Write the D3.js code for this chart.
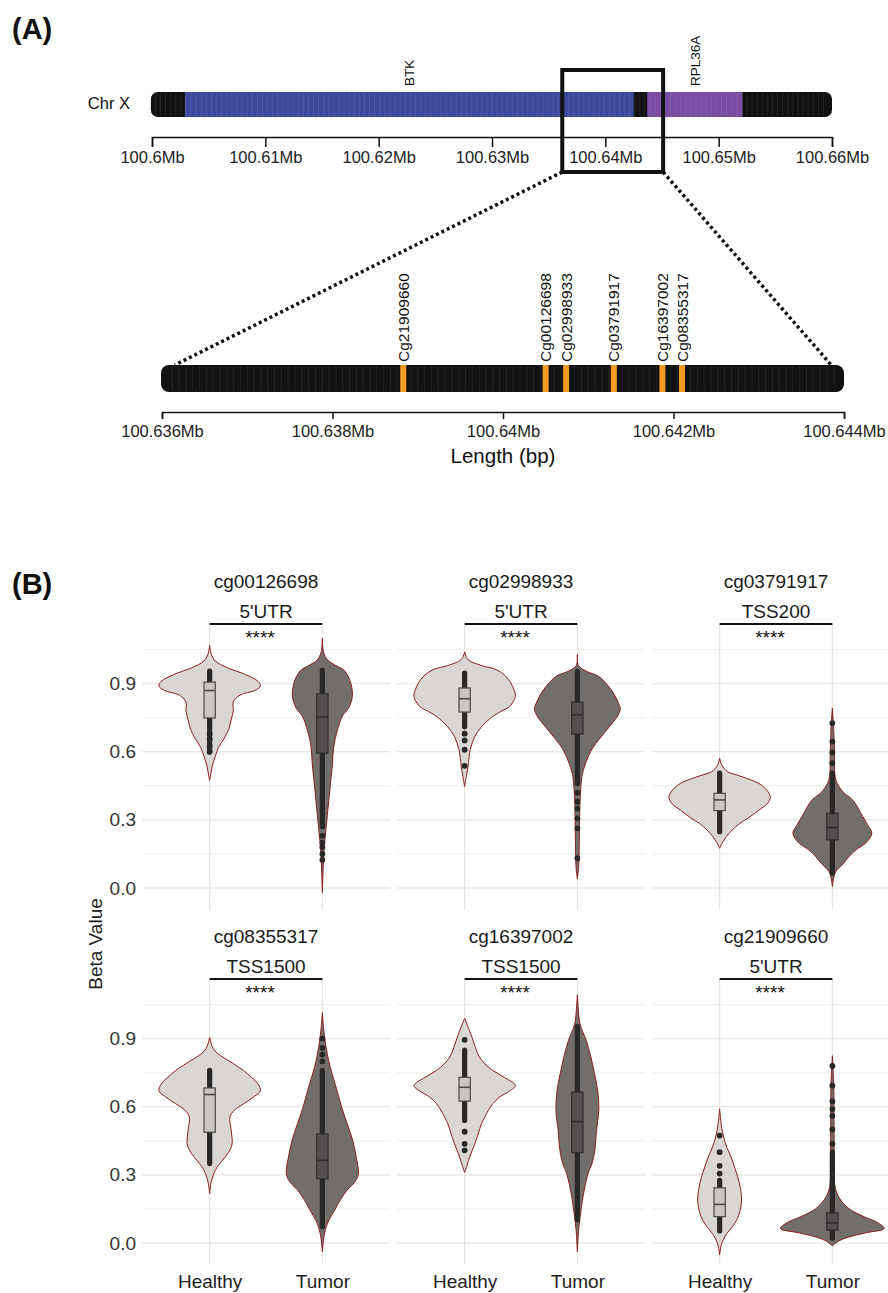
<!DOCTYPE html>
<html>
<head>
<meta charset="utf-8">
<script src="https://cdn.jsdelivr.net/npm/d3@7"></script>
<style>
  body { margin: 0; background: #fff; }
  svg { display: block; font-family: "Liberation Sans", Arial, sans-serif; }
</style>
</head>
<body>
<svg id="chart" width="888" height="1293"></svg>
<script>
// ---------- panel A : chromosome view (positions in Mb) ----------
const chrTicks = [100.6, 100.61, 100.62, 100.63, 100.64, 100.65, 100.66];
const chrExtent = [100.5999, 100.66];
const geneNames = ['BTK', 'RPL36A'];
const geneStarts = [100.6029, 100.6437];
const geneEnds = [100.6425, 100.6521];
const geneColors = ['#3c4a9e', '#7a4ca4'];
const zoomWindow = [100.6362, 100.6451];

const zoomTicks = [100.636, 100.638, 100.64, 100.642, 100.644];
const zoomExtent = [100.636, 100.644];
const linkEnds = [100.63615, 100.64385];
const cpgNames = ['Cg21909660', 'Cg00126698', 'Cg02998933', 'Cg03791917', 'Cg16397002', 'Cg08355317'];
const cpgPos = [100.63883, 100.6405, 100.64074, 100.6413, 100.64187, 100.6421];

// ---------- panel B : beta values per probe ----------
const probes = ['cg00126698', 'cg02998933', 'cg03791917', 'cg08355317', 'cg16397002', 'cg21909660'];
const regions = ["5'UTR", "5'UTR", 'TSS200', 'TSS1500', 'TSS1500', "5'UTR"];
const groups = ['Healthy', 'Tumor'];
const yMajor = [0, 0.3, 0.6, 0.9];
const yMinor = [0.15, 0.45, 0.75, 1.05];
const signif = '****';

// violin outline: [beta, half width as share of the category step]
const healthyViolin = [
  [[1.07,0],[1.03,0.015],[1.0,0.05],[0.97,0.16],[0.94,0.32],[0.91,0.43],[0.89,0.45],[0.87,0.4],[0.85,0.27],[0.82,0.21],[0.78,0.21],[0.74,0.19],[0.70,0.17],[0.66,0.13],[0.62,0.08],[0.58,0.05],[0.54,0.025],[0.5,0.01],[0.475,0]],
  [[1.04,0],[1.006,0.03],[0.98,0.15],[0.962,0.28],[0.93,0.37],[0.903,0.41],[0.87,0.44],[0.844,0.45],[0.8,0.40],[0.78,0.33],[0.756,0.25],[0.71,0.15],[0.667,0.09],[0.609,0.05],[0.535,0.03],[0.49,0.015],[0.447,0]],
  [[0.572,0],[0.54,0.02],[0.513,0.07],[0.49,0.2],[0.46,0.35],[0.43,0.42],[0.40,0.45],[0.37,0.42],[0.344,0.35],[0.31,0.26],[0.285,0.18],[0.255,0.11],[0.226,0.06],[0.2,0.025],[0.175,0]],
  [[0.906,0],[0.85,0.04],[0.79,0.21],[0.76,0.3],[0.73,0.37],[0.7,0.43],[0.67,0.45],[0.64,0.38],[0.613,0.3],[0.585,0.22],[0.555,0.18],[0.5,0.19],[0.438,0.2],[0.41,0.18],[0.38,0.14],[0.35,0.09],[0.32,0.05],[0.27,0.015],[0.218,0]],
  [[0.99,0],[0.935,0.044],[0.9,0.07],[0.862,0.095],[0.82,0.13],[0.789,0.18],[0.76,0.25],[0.73,0.35],[0.694,0.45],[0.67,0.4],[0.643,0.31],[0.614,0.25],[0.584,0.21],[0.526,0.15],[0.48,0.12],[0.437,0.09],[0.379,0.045],[0.34,0.02],[0.31,0]],
  [[0.591,0],[0.52,0.015],[0.467,0.035],[0.42,0.065],[0.38,0.10],[0.33,0.135],[0.292,0.16],[0.24,0.185],[0.189,0.195],[0.14,0.18],[0.1,0.15],[0.07,0.11],[0.042,0.065],[0.0,0.02],[-0.052,0]]
];
const tumorViolin = [
  [[1.10,0],[1.04,0.01],[1.005,0.045],[0.98,0.12],[0.96,0.19],[0.92,0.24],[0.87,0.265],[0.84,0.265],[0.79,0.23],[0.76,0.18],[0.69,0.13],[0.62,0.10],[0.55,0.09],[0.47,0.074],[0.40,0.06],[0.32,0.044],[0.25,0.03],[0.17,0.015],[0.10,0.008],[0.03,0.003],[-0.02,0]],
  [[1.028,0],[0.98,0.01],[0.955,0.08],[0.932,0.19],[0.873,0.30],[0.82,0.36],[0.788,0.38],[0.76,0.36],[0.726,0.31],[0.69,0.25],[0.653,0.19],[0.62,0.14],[0.579,0.097],[0.53,0.06],[0.49,0.04],[0.388,0.024],[0.24,0.018],[0.094,0.012],[0.04,0]],
  [[0.793,0],[0.7,0.012],[0.6,0.018],[0.491,0.025],[0.46,0.044],[0.42,0.1],[0.388,0.18],[0.315,0.27],[0.28,0.31],[0.241,0.35],[0.2,0.3],[0.168,0.21],[0.14,0.15],[0.109,0.1],[0.072,0.03],[0.04,0.01],[0.006,0]],
  [[1.015,0],[0.95,0.01],[0.891,0.024],[0.83,0.045],[0.774,0.07],[0.672,0.13],[0.6,0.17],[0.526,0.22],[0.45,0.27],[0.38,0.3],[0.306,0.32],[0.27,0.29],[0.233,0.22],[0.19,0.16],[0.145,0.11],[0.086,0.045],[0.03,0.015],[-0.039,0]],
  [[1.093,0],[1.02,0.01],[0.964,0.024],[0.891,0.08],[0.83,0.115],[0.774,0.14],[0.672,0.18],[0.584,0.19],[0.496,0.17],[0.408,0.155],[0.35,0.13],[0.306,0.095],[0.204,0.05],[0.117,0.025],[0.05,0.01],[-0.038,0]],
  [[0.825,0],[0.7,0.012],[0.5,0.015],[0.35,0.017],[0.262,0.02],[0.22,0.04],[0.189,0.074],[0.15,0.15],[0.116,0.28],[0.09,0.4],[0.064,0.46],[0.045,0.3],[0.027,0.15],[0.01,0.06],[-0.013,0]]
];
// boxplot [q1, median, q3]
const healthyBox = [[0.749,0.87,0.907],[0.775,0.834,0.881],[0.341,0.388,0.417],[0.488,0.654,0.683],[0.625,0.686,0.73],[0.116,0.17,0.243]];
const tumorBox = [[0.594,0.753,0.856],[0.678,0.763,0.819],[0.212,0.266,0.329],[0.283,0.364,0.48],[0.398,0.535,0.665],[0.057,0.089,0.133]];
// stretch where the sample points overlap into a solid bar [low, high]
const healthyDense = [[0.60,0.955],[0.71,0.947],[0.248,0.506],[0.35,0.76],[0.54,0.85],[0.053,0.276]];
const tumorDense = [[0.27,0.96],[0.46,0.954],[0.065,0.506],[0.072,0.76],[0.102,0.953],[0.021,0.40]];
// single points that stand apart
const healthyDots = [[0.6,0.625,0.655,0.68],[0.68,0.65,0.609,0.538],[],[],[0.895,0.49,0.437,0.408],[0.473,0.4,0.34,0.306]];
const tumorDots = [[0.23,0.2,0.18,0.15,0.124],[0.42,0.38,0.35,0.307,0.263,0.131],[0.726,0.645,0.597,0.55],[0.9,0.86,0.83,0.80],[],[0.78,0.693,0.624,0.59,0.56,0.5,0.437]];

const svg = d3.select('#chart');
const ink = '#111';

// ================= (A) =================
svg.append('text').attr('x', 12).attr('y', 39)
  .attr('font-size', 29).attr('font-weight', 'bold').attr('fill', ink).text('(A)');

const xChr = d3.scaleLinear().domain([100.6, 100.66]).range([152, 832]);
const chrY = 92, chrH = 25;

svg.append('text').attr('x', 130).attr('y', 109).attr('text-anchor', 'end')
  .attr('font-size', 16.5).attr('fill', ink).text('Chr X');

const chr = svg.append('g');
chr.append('rect')
  .attr('x', xChr(chrExtent[0])).attr('width', xChr(chrExtent[1]) - xChr(chrExtent[0]))
  .attr('y', chrY).attr('height', chrH).attr('rx', 7).attr('fill', ink);
chr.selectAll('rect.gene').data(geneNames).join('rect')
  .attr('class', 'gene')
  .attr('x', (d, i) => xChr(geneStarts[i]))
  .attr('width', (d, i) => xChr(geneEnds[i]) - xChr(geneStarts[i]))
  .attr('y', chrY).attr('height', chrH)
  .attr('fill', (d, i) => geneColors[i]);
// faint banding of the ideogram
chr.selectAll('line.band').data(d3.range(chrExtent[0] + 0.0004, chrExtent[1] - 0.0003, 0.00045)).join('line')
  .attr('class', 'band')
  .attr('x1', d => xChr(d)).attr('x2', d => xChr(d))
  .attr('y1', chrY + 1).attr('y2', chrY + chrH - 1)
  .attr('stroke', '#fff').attr('stroke-opacity', 0.1).attr('stroke-width', 0.8);
chr.selectAll('text.gene').data(geneNames).join('text')
  .attr('class', 'gene')
  .attr('transform', (d, i) => `translate(${xChr((geneStarts[i] + geneEnds[i]) / 2) + 5},86) rotate(-90)`)
  .attr('font-size', 13.5).attr('fill', ink).text(d => d);

const axChr = d3.axisBottom(xChr).tickValues(chrTicks).tickSize(10).tickPadding(4.5)
  .tickFormat(d => d3.format('.2~f')(d) + 'Mb');
svg.append('g').attr('transform', 'translate(0,137)').call(axChr)
  .call(g => {
    g.attr('font-family', null);
    g.select('.domain').attr('stroke', ink).attr('stroke-width', 1.5);
    g.selectAll('.tick line').attr('stroke', ink).attr('stroke-width', 1.5);
    g.selectAll('.tick text').attr('font-size', 16.5).attr('fill', '#222');
  });

// zoom window box
svg.append('rect')
  .attr('x', xChr(zoomWindow[0])).attr('y', 70)
  .attr('width', xChr(zoomWindow[1]) - xChr(zoomWindow[0])).attr('height', 102)
  .attr('fill', 'none').attr('stroke', ink).attr('stroke-width', 4);

// zoomed bar
const xZoom = d3.scaleLinear().domain(zoomExtent).range([162, 844]);
const zY = 365, zH = 27;

svg.selectAll('line.link').data([0, 1]).join('line')
  .attr('class', 'link')
  .attr('x1', i => xChr(zoomWindow[i])).attr('y1', 172)
  .attr('x2', i => xZoom(linkEnds[i])).attr('y2', zY)
  .attr('stroke', ink).attr('stroke-width', 3.5).attr('stroke-dasharray', '3 3');

const zb = svg.append('g');
zb.append('rect')
  .attr('x', xZoom(zoomExtent[0]) - 1).attr('width', xZoom(zoomExtent[1]) - xZoom(zoomExtent[0]) + 1)
  .attr('y', zY).attr('height', zH).attr('rx', 8).attr('fill', ink);
zb.selectAll('line.band').data(d3.range(zoomExtent[0] + 0.00012, zoomExtent[1] - 0.0001, 0.00008)).join('line')
  .attr('class', 'band')
  .attr('x1', d => xZoom(d)).attr('x2', d => xZoom(d))
  .attr('y1', zY + 1).attr('y2', zY + zH - 1)
  .attr('stroke', '#fff').attr('stroke-opacity', 0.1).attr('stroke-width', 0.8);
zb.selectAll('rect.cpg').data(cpgPos).join('rect')
  .attr('class', 'cpg')
  .attr('x', d => xZoom(d) - 3).attr('width', 6)
  .attr('y', zY).attr('height', zH).attr('fill', '#f59a23');
zb.selectAll('text.cpg').data(cpgNames).join('text')
  .attr('class', 'cpg')
  .attr('transform', (d, i) => `translate(${xZoom(cpgPos[i]) + 5.5},${zY - 3}) rotate(-90)`)
  .attr('font-size', 15.5).attr('fill', ink).text(d => d);

const axZoom = d3.axisBottom(xZoom).tickValues(zoomTicks).tickSize(7).tickPadding(6.3)
  .tickFormat(d => d3.format('.3~f')(d) + 'Mb');
svg.append('g').attr('transform', 'translate(0,412)').call(axZoom)
  .call(g => {
    g.attr('font-family', null);
    g.select('.domain').attr('stroke', ink).attr('stroke-width', 1.5);
    g.selectAll('.tick line').attr('stroke', ink).attr('stroke-width', 1.5);
    g.selectAll('.tick text').attr('font-size', 16.5).attr('fill', '#222');
  });
svg.append('text').attr('x', 503).attr('y', 463).attr('text-anchor', 'middle')
  .attr('font-size', 20.5).attr('fill', ink).text('Length (bp)');

// ================= (B) =================
svg.append('text').attr('x', 12).attr('y', 594)
  .attr('font-size', 29).attr('font-weight', 'bold').attr('fill', ink).text('(B)');

const colX = [142, 397, 652], rowY = [624, 979];
const panelW = 248, panelH = 286;
const yB = d3.scaleLinear().domain([-0.097, 1.163]).range([panelH, 0]);
const xB = d3.scalePoint().domain(groups).range([0, panelW]).padding(0.6);
const step = xB.step();

const fills = { Healthy: '#d9d6d3', Tumor: '#726e6c' };
const boxFill = { Healthy: '#c9c6c3', Tumor: '#534f4e' };
const boxLine = { Healthy: '#4a4a4a', Tumor: '#2f2f2f' };
const dotCol = '#282828';

const violinArea = (cx) => d3.area()
  .y(d => yB(d[0]))
  .x0(d => cx - d[1] * step)
  .x1(d => cx + d[1] * step)
  .curve(d3.curveCatmullRom.alpha(0.5));

probes.forEach((probe, i) => {
  const col = i % 3, row = Math.floor(i / 3);
  const g = svg.append('g').attr('transform', `translate(${colX[col]},${rowY[row]})`);

  // grid
  g.selectAll('line.minor').data(yMinor).join('line')
    .attr('x1', 0).attr('x2', panelW).attr('y1', d => yB(d)).attr('y2', d => yB(d))
    .attr('stroke', '#efebe9').attr('stroke-width', 0.8);
  g.selectAll('line.major').data(yMajor).join('line')
    .attr('x1', 0).attr('x2', panelW).attr('y1', d => yB(d)).attr('y2', d => yB(d))
    .attr('stroke', '#e6e1df').attr('stroke-width', 1.1);
  g.selectAll('line.vgrid').data(groups).join('line')
    .attr('x1', d => xB(d)).attr('x2', d => xB(d)).attr('y1', 0).attr('y2', panelH)
    .attr('stroke', '#e6e1df').attr('stroke-width', 1.1);

  // strip labels
  g.append('text').attr('x', panelW / 2).attr('y', -36).attr('text-anchor', 'middle')
    .attr('font-size', 19).attr('fill', '#1a1a1a').text(probe);
  g.append('text').attr('x', panelW / 2).attr('y', -6).attr('text-anchor', 'middle')
    .attr('font-size', 19).attr('fill', '#1a1a1a').text(regions[i]);

  // significance bracket
  g.append('line').attr('x1', xB('Healthy')).attr('x2', xB('Tumor')).attr('y1', 0).attr('y2', 0)
    .attr('stroke', ink).attr('stroke-width', 2);
  g.append('text').attr('x', (xB('Healthy') + xB('Tumor')) / 2 - 6).attr('y', 19.5)
    .attr('text-anchor', 'middle').attr('font-size', 19).attr('fill', ink).text(signif);

  const sets = [
    { grp: 'Healthy', v: healthyViolin[i], box: healthyBox[i], dense: healthyDense[i], dots: healthyDots[i] },
    { grp: 'Tumor', v: tumorViolin[i], box: tumorBox[i], dense: tumorDense[i], dots: tumorDots[i] }
  ];

  sets.forEach(s => {
    const cx = xB(s.grp);
    g.append('path').datum(s.v)
      .attr('d', violinArea(cx))
      .attr('fill', fills[s.grp]).attr('stroke', '#8b1e1e').attr('stroke-width', 1);
    // points
    g.append('line').attr('x1', cx).attr('x2', cx)
      .attr('y1', yB(s.dense[0])).attr('y2', yB(s.dense[1]))
      .attr('stroke', dotCol).attr('stroke-width', 5.2).attr('stroke-linecap', 'round');
    g.selectAll(null).data(s.dots).join('circle')
      .attr('cx', cx).attr('cy', d => yB(d)).attr('r', 2.9).attr('fill', dotCol);
    // box
    const bw = 0.1 * step;
    g.append('rect').attr('x', cx - bw / 2).attr('width', bw)
      .attr('y', yB(s.box[2])).attr('height', yB(s.box[0]) - yB(s.box[2]))
      .attr('fill', boxFill[s.grp]).attr('stroke', boxLine[s.grp]).attr('stroke-width', 1.2);
    g.append('line').attr('x1', cx - bw / 2).attr('x2', cx + bw / 2)
      .attr('y1', yB(s.box[1])).attr('y2', yB(s.box[1]))
      .attr('stroke', boxLine[s.grp]).attr('stroke-width', 1.6);
  });

  if (col === 0) {
    g.append('g').call(d3.axisLeft(yB).tickValues(yMajor).tickFormat(d3.format('.1f')).tickSize(0).tickPadding(6))
      .call(a => {
        a.attr('font-family', null);
        a.select('.domain').remove();
        a.selectAll('text').attr('font-size', 19).attr('fill', '#333');
      });
  }
  if (row === 1) {
    g.append('g').attr('transform', `translate(0,${panelH})`)
      .call(d3.axisBottom(xB).tickSize(0).tickPadding(9.5))
      .call(a => {
        a.attr('font-family', null);
        a.select('.domain').remove();
        a.selectAll('text').attr('font-size', 19).attr('fill', '#222');
      });
  }
});

svg.append('text').attr('transform', 'translate(102,944) rotate(-90)')
  .attr('text-anchor', 'middle').attr('font-size', 19).attr('fill', '#222').text('Beta Value');
</script>
</body>
</html>
